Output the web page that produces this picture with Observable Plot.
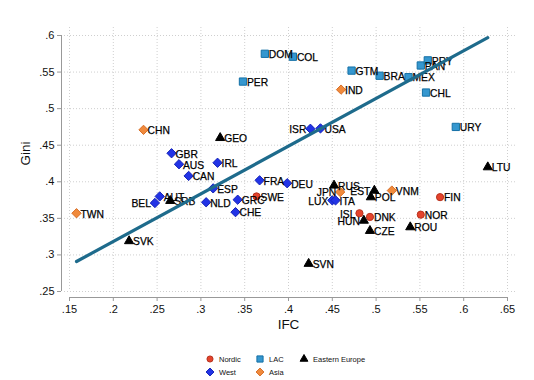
<!DOCTYPE html>
<html><head><meta charset="utf-8">
<script src="https://cdn.jsdelivr.net/npm/d3@7"></script>
<script src="https://cdn.jsdelivr.net/npm/@observablehq/plot@0.6"></script>
<style>
body{margin:0;background:#fff;font-family:"Liberation Sans",Arial,Helvetica,sans-serif;}
#chart{position:relative;width:534px;height:380px;overflow:hidden;}
</style></head><body><div id="chart"></div>
<script>
// ---- data (IFC on x, Gini on y) ----
const nordicCode = ["SWE","ISL","DNK","NOR","FIN"];
const nordicIFC  = [.3635,.481,.493,.551,.573];
const nordicGini = [.380,.357,.352,.355,.379];

const lacCode = ["DOM","COL","PER","GTM","BRA","MEX","PAN","PRY","CHL","URY"];
const lacIFC  = [.373,.405,.348,.472,.504,.537,.551,.559,.557,.591];
const lacGini = [.575,.571,.537,.552,.545,.543,.559,.566,.522,.475];

const eeCode = ["GEO","SRB","SVK","RUS","EST","POL","HUN","CZE","ROU","SVN","LTU"];
const eeIFC  = [.322,.265,.218,.452,.498,.494,.486,.493,.539,.423,.6275];
const eeGini = [.460,.374,.319,.395,.388,.379,.347,.333,.338,.288,.420];

const westCode = ["ISR","USA","GBR","AUS","IRL","CAN","ESP","FRA","DEU","AUT","BEL","NLD","GRC","CHE","LUX","ITA"];
const westIFC  = [.425,.4365,.2665,.275,.319,.286,.314,.367,.3985,.253,.2475,.306,.342,.3395,.450,.4537];
const westGini = [.4725,.473,.439,.424,.426,.408,.391,.402,.398,.380,.371,.372,.3755,.3585,.3746,.3746];

const asiaCode = ["CHN","IND","TWN","JPN","VNM"];
const asiaIFC  = [.2345,.460,.158,.459,.518];
const asiaGini = [.471,.526,.357,.386,.388];

// fitted line (linear fit) end points
const fitIFC  = [.158,.6275];
const fitGini = [.291,.597];

const xTicks = [.15,.2,.25,.3,.35,.4,.45,.5,.55,.6,.65];
const yTicks = [.25,.3,.35,.4,.45,.5,.55,.6];

const leftLabels = ["ISR","BEL","LUX","JPN","EST","ISL","HUN"];

// ---- build ----
const rows = (codes, xs, ys, group) => codes.map((c,i)=>({code:c, ifc:xs[i], gini:ys[i], group}));
const nordic = rows(nordicCode,nordicIFC,nordicGini,"Nordic");
const lac = rows(lacCode,lacIFC,lacGini,"LAC");
const ee = rows(eeCode,eeIFC,eeGini,"Eastern Europe");
const west = rows(westCode,westIFC,westGini,"West");
const asia = rows(asiaCode,asiaIFC,asiaGini,"Asia");
const all = [...nordic,...lac,...ee,...west,...asia];
const fit = fitIFC.map((x,i)=>({ifc:x, gini:fitGini[i]}));
const fmt = d => String(d).replace(/^0\./, ".");

const styles = {
  Nordic: {symbol:"circle", r:3.6, fill:"#e4432c", stroke:"#b8321e"},
  LAC: {symbol:"square", r:4.1, fill:"#3597cf", stroke:"#1470a6"},
  "Eastern Europe": {symbol:"triangle", r:3.4, fill:"#000", stroke:"#000"},
  West: {symbol:"diamond2", r:4.2, fill:"#2233e6", stroke:"#1524b8"},
  Asia: {symbol:"diamond2", r:4.2, fill:"#f08a3c", stroke:"#d8702a"}
};
const groups = [["Nordic",nordic],["LAC",lac],["Eastern Europe",ee],["West",west],["Asia",asia]];

const font = '"Liberation Sans", Arial, Helvetica, sans-serif';
const plot = Plot.plot({
  width: 534, height: 342,
  marginLeft: 69, marginRight: 27, marginTop: 35, marginBottom: 51,
  x: {domain: [.15,.65]},
  y: {domain: [.25,.6]},
  style: {fontFamily: font, fontSize: "11px", background: "white", color: "#111", overflow: "visible"},
  marks: [
    Plot.ruleY(yTicks, {y: d=>d, stroke: "#cfcfcf", strokeDasharray: "1,2", insetLeft: -5, insetRight: -8}),
    Plot.ruleX(xTicks, {x: d=>d, stroke: "#cfcfcf", strokeDasharray: "1,2", insetTop: -8}),
    Plot.ruleX([.15], {y1: .25, y2: .6, dx: -8, stroke: "#999"}),
    Plot.ruleY([.25], {x1: .15, x2: .65, dy: 6, stroke: "#999"}),
    Plot.axisY({ticks: yTicks, tickFormat: fmt, dx: -8, tickSize: 4, tickPadding: 3, label: null, stroke: "#999", fill: "#111"}),
    Plot.axisX({ticks: xTicks, tickFormat: fmt, dy: 6, tickSize: 4, tickPadding: 4, label: null, stroke: "#999", fill: "#111"}),
    Plot.text(["Gini"], {frameAnchor: "left", dx: -44, dy: 2, rotate: -90, fontSize: 13.5, fill: "#111"}),
    Plot.text(["IFC"], {frameAnchor: "bottom", dy: 37, fontSize: 13.5, fill: "#111"}),
    ...groups.map(([g,d]) => Plot.dot(d, {x: "ifc", y: "gini", ...styles[g], strokeWidth: 1})),
    Plot.text(all.filter(d=>!leftLabels.includes(d.code)), {x: "ifc", y: "gini", text: "code", textAnchor: "start", dx: 4, dy: 1, fontSize: 10.3, fill: "#000", stroke: "#000", strokeWidth: 0.25}),
    Plot.text(all.filter(d=>leftLabels.includes(d.code)), {x: "ifc", y: "gini", text: "code", textAnchor: "end", dx: -4, dy: 1, fontSize: 10.3, fill: "#000", stroke: "#000", strokeWidth: 0.25}),
    Plot.line(fit, {x: "ifc", y: "gini", stroke: "#1e6b8c", strokeWidth: 3.2})
  ]
});
const chart = document.getElementById("chart");
chart.appendChild(plot);

// ---- legend ----
const legendItems = [
  {g:"Nordic", col:0, row:0}, {g:"LAC", col:1, row:0}, {g:"Eastern Europe", col:2, row:0},
  {g:"West", col:0, row:1}, {g:"Asia", col:1, row:1}
];
const colX = [210, 260, 304], rowY = [17, 30];
const lg = d3.create("svg").attr("width", 534).attr("height", 38)
  .style("position","absolute").style("left","0px").style("top","342px");
const symMap = {circle: d3.symbolCircle, square: d3.symbolSquare, triangle: d3.symbolTriangle, diamond2: d3.symbolDiamond2};
for (const it of legendItems) {
  const s = styles[it.g];
  const size = Math.PI * (s.r*0.85) ** 2;
  lg.append("path").attr("d", d3.symbol(symMap[s.symbol], size)())
    .attr("transform", `translate(${colX[it.col]},${rowY[it.row]})`)
    .attr("fill", s.fill).attr("stroke", s.stroke);
  lg.append("text").attr("x", colX[it.col] + 9).attr("y", rowY[it.row])
    .attr("dy", "0.35em").attr("font-size", 7.5).attr("font-family", font).attr("fill", "#111").text(it.g);
}
chart.appendChild(lg.node());
</script></body></html>
